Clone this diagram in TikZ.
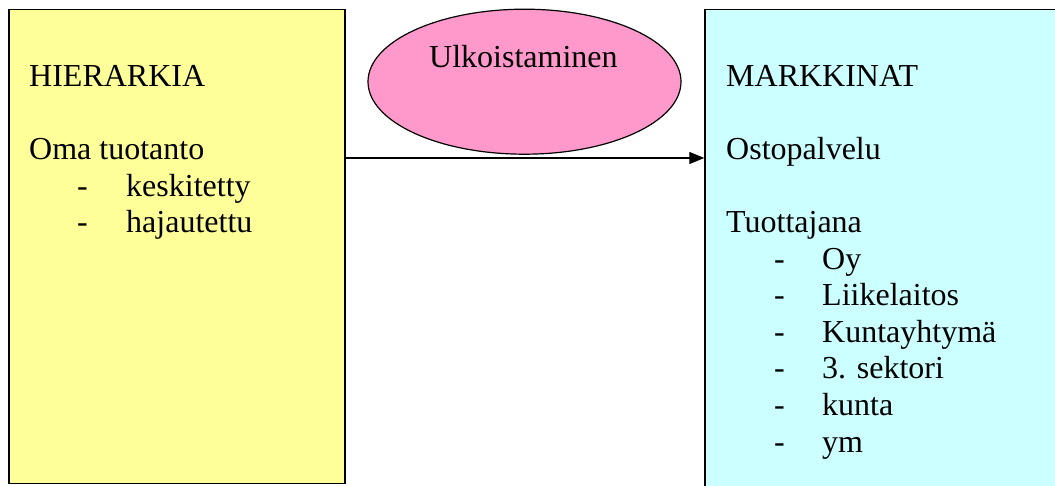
\documentclass[tikz,border=0pt]{standalone}
\usepackage{fontspec}
\setmainfont{Liberation Serif}
\usetikzlibrary{shapes.geometric,arrows.meta}
\definecolor{hierfill}{HTML}{FFFF99}
\definecolor{markfill}{HTML}{CCFFFF}
\definecolor{ulkofill}{HTML}{FF99CC}
\tikzset{
  panel/.style={draw=black, line width=1.2pt, rectangle, inner sep=0pt, anchor=north west},
  oval/.style={draw=black, line width=1.2pt, ellipse, inner sep=0pt, fill=ulkofill,
               minimum width=313pt, minimum height=145pt},
  txt/.style={anchor=base west, inner sep=0pt, font=\fontsize{32}{36}\selectfont},
  link/.style={draw=black, line width=1.2pt, -{Triangle[length=15pt,width=12pt]}}
}
\begin{document}
\begin{tikzpicture}[x=1pt,y=-1pt]
  \useasboundingbox (0,0) rectangle (1055,486);
  \clip (0,0) rectangle (1055,486);

  % the two organisation panels
  \node[panel, fill=hierfill, minimum width=336pt, minimum height=473.4pt] (hier) at (8.3,9.3) {};
  \node[panel, fill=markfill, minimum width=370pt, minimum height=490pt] (mark) at (704.3,9.3) {};

  % outsourcing oval
  \node[oval] (ulko) at (524.5,81.7) {};
  \node[txt] (ulkotxt) at (429,68) {Ulkoistaminen};

  % arrow from hierarchy to markets
  \coordinate (arrowy) at (0,158);
  \draw[link] (hier.east |- arrowy) -- (mark.west |- arrowy);

  % left panel text
  \node[txt] (h1) at (29,86.5) {HIERARKIA};
  \node[txt] (h2) at (29,159.6) {Oma tuotanto};
  \node[txt] (h3d) at (77,196.1) {-};
  \node[txt] (h3) at (126,196.1) {keskitetty};
  \node[txt] (h4d) at (77,232.7) {-};
  \node[txt] (h4) at (126,232.7) {hajautettu};

  % right panel text
  \node[txt] (m1) at (726,86.5) {MARKKINAT};
  \node[txt] (m2) at (726,159.6) {Ostopalvelu};
  \node[txt] (m3) at (726,232.7) {Tuottajana};
  \foreach \y/\lbl [count=\i] in {269.2/Oy, 305.8/Liikelaitos, 342.3/Kuntayhtymä,
                                   378.9/3. sektori, 415.5/kunta, 452/ym} {
    \node[txt] (md\i) at (774,\y) {-};
    \node[txt] (mi\i) at (822,\y) {\lbl};
  }
\end{tikzpicture}
\end{document}
